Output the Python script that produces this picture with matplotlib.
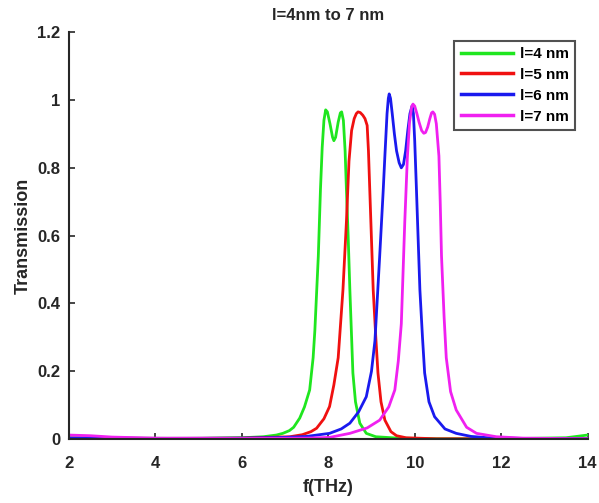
import matplotlib.pyplot as plt

plt.rcParams['font.family'] = ['Liberation Sans', 'DejaVu Sans']
plt.rcParams['font.weight'] = 'bold'

# frequency (THz) and transmission for each length
f_4 = [2, 3, 5, 6, 6.5, 6.8, 6.95, 7.1, 7.2, 7.34, 7.45, 7.57, 7.65, 7.69, 7.73, 7.77, 7.82, 7.86, 7.9,
       7.94, 7.98, 8.04, 8.1, 8.13, 8.17, 8.23, 8.28, 8.31, 8.35, 8.39, 8.42, 8.46, 8.5, 8.54, 8.57,
       8.63, 8.73, 8.88, 9.1, 9.6, 10.5, 12, 13.5, 14]
t_4 = [0.004, 0.003, 0.002, 0.004, 0.007, 0.012, 0.017, 0.025, 0.035, 0.062, 0.095, 0.145, 0.24, 0.32, 0.43, 0.54,
       0.737, 0.86, 0.94, 0.971, 0.965, 0.93, 0.89, 0.88, 0.89, 0.935, 0.962, 0.965, 0.94, 0.85, 0.737, 0.6,
       0.44, 0.3, 0.195, 0.11, 0.047, 0.017, 0.007, 0.003, 0.001, 0.001, 0.004, 0.012]

f_5 = [2, 4, 6, 7.11, 7.4, 7.6, 7.73, 7.9, 8.03, 8.13, 8.23, 8.34, 8.42, 8.48, 8.54, 8.6, 8.65,
       8.69, 8.74, 8.8, 8.85, 8.9, 8.93, 8.96, 9.04, 9.1, 9.15, 9.22, 9.31, 9.45, 9.58, 9.8, 10.5,
       12, 14]
t_5 = [0.003, 0.002, 0.003, 0.007, 0.013, 0.022, 0.032, 0.06, 0.096, 0.16, 0.24, 0.44, 0.64, 0.82, 0.91, 0.945, 0.96,
       0.965, 0.963, 0.955, 0.945, 0.925, 0.85, 0.737, 0.44, 0.3, 0.195, 0.11, 0.056, 0.022, 0.01, 0.004, 0.001,
       0.001, 0.001]

f_6 = [2, 4, 6, 7, 7.5, 8.03, 8.3, 8.5, 8.7, 8.88, 9.0, 9.08, 9.19, 9.27, 9.31, 9.36, 9.39, 9.41,
       9.44, 9.48, 9.53, 9.58, 9.64, 9.69, 9.74, 9.79, 9.84, 9.89, 9.94, 9.97, 10.0, 10.04, 10.12,
       10.18, 10.23, 10.33, 10.46, 10.7, 10.96, 11.3, 11.7, 12.5, 14]
t_6 = [0.003, 0.002, 0.003, 0.005, 0.008, 0.017, 0.03, 0.047, 0.08, 0.125, 0.2, 0.29, 0.54, 0.73, 0.835, 0.96, 1.005,
       1.018, 1.005, 0.96, 0.9, 0.85, 0.815, 0.80, 0.81, 0.85, 0.91, 0.96, 0.983, 0.96, 0.88, 0.737, 0.44,
       0.3, 0.195, 0.11, 0.066, 0.03, 0.017, 0.008, 0.004, 0.002, 0.001]

f_7 = [2, 2.5, 3, 4, 6, 7.5, 8.03, 8.5, 8.9, 9.19, 9.4, 9.54, 9.62, 9.69, 9.77, 9.83, 9.88, 9.93,
       9.96, 10.0, 10.05, 10.1, 10.16, 10.21, 10.25, 10.3, 10.35, 10.39, 10.42, 10.46, 10.5, 10.56,
       10.59, 10.62, 10.68, 10.73, 10.83, 10.96, 11.2, 11.43, 11.89, 12.5, 14]
t_7 = [0.012, 0.01, 0.006, 0.003, 0.002, 0.003, 0.005, 0.017, 0.033, 0.056, 0.095, 0.145, 0.23, 0.34, 0.64, 0.83,
       0.934, 0.98, 0.988, 0.982, 0.96, 0.935, 0.91, 0.902, 0.904, 0.92, 0.945, 0.962, 0.965, 0.958, 0.93, 0.835,
       0.7, 0.54, 0.36, 0.24, 0.14, 0.086, 0.035, 0.017, 0.007, 0.003, 0.001]

series = [
    (f_4, t_4, '#1fe61f', 'l=4 nm'),
    (f_5, t_5, '#f01010', 'l=5 nm'),
    (f_6, t_6, '#1a1aee', 'l=6 nm'),
    (f_7, t_7, '#f020f0', 'l=7 nm'),
]

fig = plt.figure(figsize=(5.99, 5.03), dpi=100)
ax = fig.add_axes([0.115, 0.127, 0.866, 0.809])

for f, t, c, lab in series:
    ax.plot(f, t, color=c, lw=2.0, label=lab, solid_joinstyle='round')

ax.set_xlim(2, 14)
ax.set_ylim(0, 1.2)
ax.set_xticks([2, 4, 6, 8, 10, 12, 14])
ax.set_yticks([0, 0.2, 0.4, 0.6, 0.8, 1, 1.2])
ax.set_yticklabels(['0', '0.2', '0.4', '0.6', '0.8', '1', '1.2'])
ax.tick_params(direction='in', length=4, width=1.2, labelsize=12, colors='#262626', pad=6)
ax.tick_params(axis='x', pad=12)
for lbl in ax.get_xticklabels() + ax.get_yticklabels():
    lbl.set_fontweight('bold')
ax.spines['top'].set_visible(False)
ax.spines['right'].set_visible(False)
for s in ['left', 'bottom']:
    ax.spines[s].set_linewidth(1.5)
    ax.spines[s].set_color('#262626')

ax.set_xlabel('f(THz)', fontsize=13, fontweight='bold', color='#262626', labelpad=6)
ax.set_ylabel('Transmission', fontsize=13, fontweight='bold', color='#262626', labelpad=4)
ax.set_title('l=4nm to 7 nm', fontsize=12, fontweight='bold', color='#262626', pad=9)

leg = ax.legend(loc='upper right', bbox_to_anchor=(0.985, 0.99), fontsize=11, frameon=True,
                fancybox=False, edgecolor='#262626', handlelength=3.4, borderaxespad=0.3,
                labelspacing=0.45, handletextpad=0.5)
leg.get_frame().set_linewidth(1.5)
for line in leg.get_lines():
    line.set_linewidth(2.5)

fig.savefig('out.png', dpi=100)
